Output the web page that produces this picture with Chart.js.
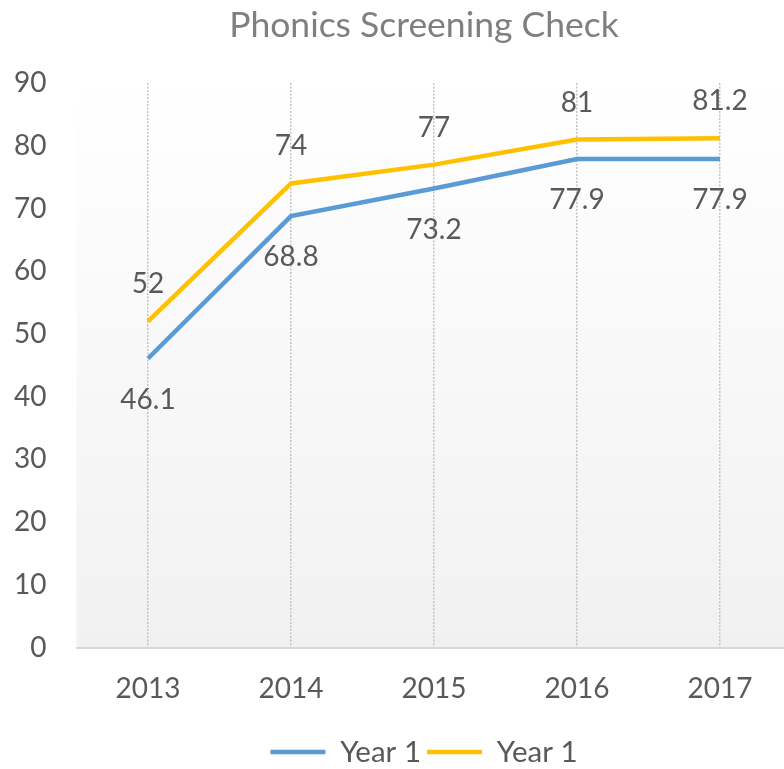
<!DOCTYPE html>
<html>
<head>
<meta charset="utf-8">
<script src="https://cdn.jsdelivr.net/npm/chart.js@4/dist/chart.umd.min.js"></script>
<style>
  html, body { margin: 0; padding: 0; background: #fff; overflow: hidden; }
  #wrap { width: 848px; height: 769px; }
</style>
</head>
<body>
<div id="wrap"><canvas id="chart" width="848" height="769"></canvas></div>
<script>
const years = ["2013", "2014", "2015", "2016", "2017"];
const seriesNames = ["Year 1", "Year 1"];
const blueValues = [46.1, 68.8, 73.2, 77.9, 77.9];
const goldValues = [52, 74, 77, 81, 81.2];
const yTicks = [0, 10, 20, 30, 40, 50, 60, 70, 80, 90];

const FONT = "Lato, 'Open Sans', sans-serif";
const TEXT = "#595959";

// plot area fill, white at the top fading to light grey at the axis
const plotBackground = {
    id: "plotBackground",
    beforeDraw(chart) {
        const { ctx, chartArea: a } = chart;
        const g = ctx.createLinearGradient(0, a.top, 0, a.bottom);
        g.addColorStop(0, "#ffffff");
        g.addColorStop(1, "#f1f1f1");
        ctx.save();
        ctx.fillStyle = g;
        ctx.fillRect(a.left, a.top, a.right - a.left, a.bottom - a.top);
        ctx.restore();
    }
};

// value labels: first series under the line, second one over it
const valueLabels = {
    id: "valueLabels",
    afterDatasetsDraw(chart) {
        const ctx = chart.ctx;
        ctx.save();
        ctx.font = "28px " + FONT;
        ctx.fillStyle = TEXT;
        ctx.textAlign = "center";
        ctx.textBaseline = "middle";
        chart.data.datasets.forEach((ds, i) => {
            const meta = chart.getDatasetMeta(i);
            const shift = i === 0 ? 41 : -37;
            meta.data.forEach((pt, j) => {
                ctx.fillText(String(ds.data[j]), pt.x, pt.y + shift);
            });
        });
        ctx.restore();
    }
};

new Chart(document.getElementById("chart"), {
    type: "line",
    data: {
        labels: years,
        datasets: [
            {
                label: seriesNames[0],
                data: blueValues,
                borderColor: "#5b9bd5",
                backgroundColor: "#5b9bd5",
                borderWidth: 4.5,
                pointRadius: 0,
                tension: 0
            },
            {
                label: seriesNames[1],
                data: goldValues,
                borderColor: "#ffc000",
                backgroundColor: "#ffc000",
                borderWidth: 4.5,
                pointRadius: 0,
                tension: 0
            }
        ]
    },
    options: {
        responsive: false,
        animation: false,
        devicePixelRatio: 1,
        layout: { padding: { left: 0, right: 0, top: 0, bottom: -7.75 } },
        plugins: {
            title: {
                display: true,
                text: "Phonics Screening Check",
                color: "#7f7f7f",
                font: { family: FONT, size: 35.5, weight: "normal" },
                padding: { top: 4, bottom: 36.5 }
            },
            legend: {
                position: "bottom",
                labels: {
                    color: TEXT,
                    font: { family: FONT, size: 29.5 },
                    usePointStyle: true,
                    pointStyle: "line",
                    pointStyleWidth: 55,
                    padding: 6
                }
            },
            tooltip: { enabled: false }
        },
        scales: {
            x: {
                offset: true,
                grid: {
                    display: true,
                    offset: false,
                    drawTicks: false,
                    color: "#c4c4c4",
                    lineWidth: 1.5
                },
                border: { display: true, color: "#d9d9d9", width: 2, dash: [2, 1.5] },
                ticks: {
                    color: TEXT,
                    font: { family: FONT, size: 28 },
                    padding: 25
                }
            },
            y: {
                min: 0,
                max: 90,
                afterBuildTicks(scale) {
                    scale.ticks = yTicks.map(v => ({ value: v }));
                },
                afterFit(scale) {
                    scale.width = 76.5;
                },
                grid: { display: false, drawTicks: false },
                border: { display: false },
                ticks: {
                    color: TEXT,
                    font: { family: FONT, size: 28 },
                    padding: 30
                }
            },
            // empty strip on the right: the canvas runs past the window and the
            // last category is cut off, as in the original picture
            spacer: {
                type: "linear",
                position: "right",
                afterFit(scale) {
                    scale.width = 56.5;
                },
                grid: { display: false, drawTicks: false },
                border: { display: false },
                ticks: { display: false }
            }
        }
    },
    plugins: [plotBackground, valueLabels]
});
</script>
</body>
</html>
